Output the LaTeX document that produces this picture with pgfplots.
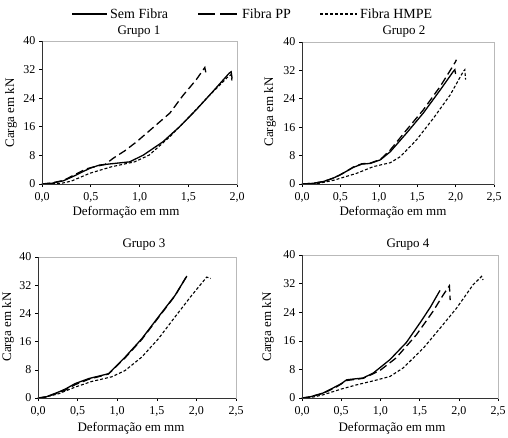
\documentclass[border=0pt]{standalone}
\usepackage{pgfplots}
\pgfplotsset{compat=1.18}
\usepackage{fontspec}
\setmainfont{Liberation Serif}
\newcommand{\lab}{\fontsize{13}{15}\selectfont}
\newcommand{\leg}{\fontsize{14}{16}\selectfont}
\newcommand{\tck}{\fontsize{12}{13}\selectfont}
\tikzset{
  sf/.style={black, line width=1.3pt, solid},
  pp/.style={black, line width=1.3pt, dash pattern=on 8pt off 4pt},
  hm/.style={black, line width=1.1pt, dash pattern=on 3pt off 2pt},
}
\pgfplotsset{
  grp/.style={
    scale only axis, anchor=south west,
    xmin=0, ymin=0, ymax=40, ytick={0,8,...,40},
    axis line style={gray!55, line width=0.6pt},
    tick style={black, line width=0.6pt},
    tick align=outside, major tick length=3pt,
    xtick pos=lower, ytick pos=left,
    tick label style={font=\tck},
    /pgf/number format/assume math mode=true,
    xticklabel style={/pgf/number format/use comma, /pgf/number format/fixed, /pgf/number format/fixed zerofill, /pgf/number format/precision=1, /tikz/yshift=-2pt},
    clip=false,
  },
}
\begin{document}
\begin{tikzpicture}[x=1pt,y=1pt]
\useasboundingbox (0,0) rectangle (508,437);
% legend
\draw[sf] (72,423) -- (107,423); \node[anchor=west, font=\leg, inner sep=0] at (110,423) {Sem Fibra};
\draw[black, line width=1.3pt, dash pattern=on 17pt off 5pt] (198,423) -- (237,423); \node[anchor=west, font=\leg, inner sep=0] at (242,423) {Fibra PP};
\draw[hm] (320,423) -- (357,423); \node[anchor=west, font=\leg, inner sep=0] at (360,423) {Fibra HMPE};
% titles and labels
\node[font=\lab] at (139,405) {Grupo 1};
\node[font=\lab] at (404,405) {Grupo 2};
\node[font=\lab] at (144,192) {Grupo 3};
\node[font=\lab] at (408,192) {Grupo 4};
\node[font=\lab] at (126,225) {Deformação em mm};
\node[font=\lab] at (393,225) {Deformação em mm};
\node[font=\lab] at (131,9) {Deformação em mm};
\node[font=\lab] at (392,9) {Deformação em mm};
\node[font=\lab, rotate=90] at (11,324) {Carga em kN};
\node[font=\lab, rotate=90] at (270,325) {Carga em kN};
\node[font=\lab, rotate=90] at (8,110) {Carga em kN};
\node[font=\lab, rotate=90] at (268,110) {Carga em kN};

% Grupo 1
\begin{axis}[grp, at={(42pt,253pt)}, width=195pt, height=143pt, xmax=2, xtick={0,0.5,...,2}]
\addplot[hm] coordinates {(0,0) (0.2,0.2) (0.3,0.8) (0.49,3.0) (0.71,4.8) (0.95,6.2) (1.1,8.1) (1.31,13.2) (1.5,18.5) (1.7,24.3) (1.9,29.8) (1.94,30.6) (1.95,28.5)};
\addplot[pp] coordinates {(0,0) (0.1,0.3) (0.22,1.0) (0.35,2.8) (0.45,4.2) (0.55,4.9) (0.65,5.5) (0.73,7.2) (0.85,9.3) (0.97,11.8) (1.17,16.5) (1.31,19.8) (1.45,24.9) (1.58,29.1) (1.67,32.6) (1.68,31.2)};
\addplot[sf] coordinates {(0,0) (0.1,0.2) (0.22,0.9) (0.35,2.5) (0.49,4.4) (0.59,5.3) (0.76,5.8) (0.9,6.2) (1.04,8.1) (1.24,11.8) (1.41,16) (1.58,20.7) (1.75,25.8) (1.92,31) (1.94,31.4) (1.95,29.5)};
\draw[black!80, line width=0.6pt] (rel axis cs:0,1) -- (rel axis cs:0,0) -- (rel axis cs:1,0);
\end{axis}

% Grupo 2
\begin{axis}[grp, at={(302pt,253pt)}, width=192pt, height=142pt, xmax=2.5, xtick={0,0.5,...,2.5}]
\addplot[hm] coordinates {(0,0) (0.2,0.1) (0.42,1.1) (0.71,3.0) (0.93,4.9) (1.15,6.0) (1.28,7.7) (1.49,12.4) (1.71,18.5) (1.93,25.1) (2.1,31.7) (2.12,32.2) (2.13,29.4)};
\addplot[pp] coordinates {(0,0) (0.15,0.2) (0.28,0.7) (0.4,1.6) (0.49,2.5) (0.58,3.6) (0.67,4.8) (0.78,5.7) (0.89,5.9) (1.02,6.9) (1.15,9.6) (1.36,15.2) (1.58,20.9) (1.8,27.5) (1.95,32.7) (2.0,34.5) (2.01,35)};
\addplot[sf] coordinates {(0,0) (0.15,0.2) (0.28,0.7) (0.4,1.6) (0.49,2.5) (0.58,3.6) (0.67,4.7) (0.78,5.6) (0.89,5.8) (1.02,6.8) (1.15,9.1) (1.36,14.3) (1.58,20) (1.8,26.5) (1.97,31.7) (1.99,32.2) (2.0,31.0)};
\draw[black!80, line width=0.6pt] (rel axis cs:0,1) -- (rel axis cs:0,0) -- (rel axis cs:1,0);
\end{axis}

% Grupo 3
\begin{axis}[grp, at={(38pt,39pt)}, width=198pt, height=141pt, xmax=2.5, xtick={0,0.5,...,2.5}]
\addplot[hm] coordinates {(0,0) (0.1,0.3) (0.26,1.2) (0.47,3.1) (0.68,4.7) (0.93,6.0) (1.1,7.8) (1.31,11.6) (1.52,16.8) (1.73,23) (1.94,29.1) (2.13,34.3) (2.18,33.9)};
\addplot[pp] coordinates {(0,0) (0.1,0.3) (0.26,1.5) (0.35,2.3) (0.47,3.8) (0.64,5.3) (0.89,6.8) (1.1,11.4) (1.31,16.6) (1.52,22.8) (1.73,29.0) (1.87,34.3)};
\addplot[sf] coordinates {(0,0) (0.1,0.3) (0.26,1.7) (0.35,2.6) (0.47,4.1) (0.64,5.5) (0.89,6.9) (1.1,11.6) (1.31,16.8) (1.52,23) (1.73,29.1) (1.88,34.6)};
\draw[black!80, line width=0.6pt] (rel axis cs:0,1) -- (rel axis cs:0,0) -- (rel axis cs:1,0);
\end{axis}

% Grupo 4
\begin{axis}[grp, at={(302pt,39pt)}, width=196pt, height=143pt, xmax=2.5, xtick={0,0.5,...,2.5}]
\addplot[hm] coordinates {(0,0) (0.15,0.3) (0.27,0.9) (0.5,2.5) (0.7,3.7) (0.91,4.8) (1.12,6.0) (1.29,8.4) (1.55,14) (1.76,19.5) (1.97,25.1) (2.18,31.6) (2.29,34) (2.31,33)};
\addplot[pp] coordinates {(0,0) (0.1,0.3) (0.27,1.3) (0.44,3.1) (0.57,4.9) (0.78,5.5) (0.91,6.8) (1.0,7.8) (1.2,11.2) (1.46,17.7) (1.67,24.2) (1.8,28.8) (1.88,31.4) (1.89,27.4)};
\addplot[sf] coordinates {(0,0) (0.1,0.3) (0.27,1.4) (0.44,3.3) (0.5,4.0) (0.57,5.1) (0.78,5.6) (0.91,7.0) (1.12,10.7) (1.33,15.5) (1.52,21.5) (1.64,25.5) (1.76,30.1)};
\draw[black!80, line width=0.6pt] (rel axis cs:0,1) -- (rel axis cs:0,0) -- (rel axis cs:1,0);
\end{axis}
\end{tikzpicture}
\end{document}
